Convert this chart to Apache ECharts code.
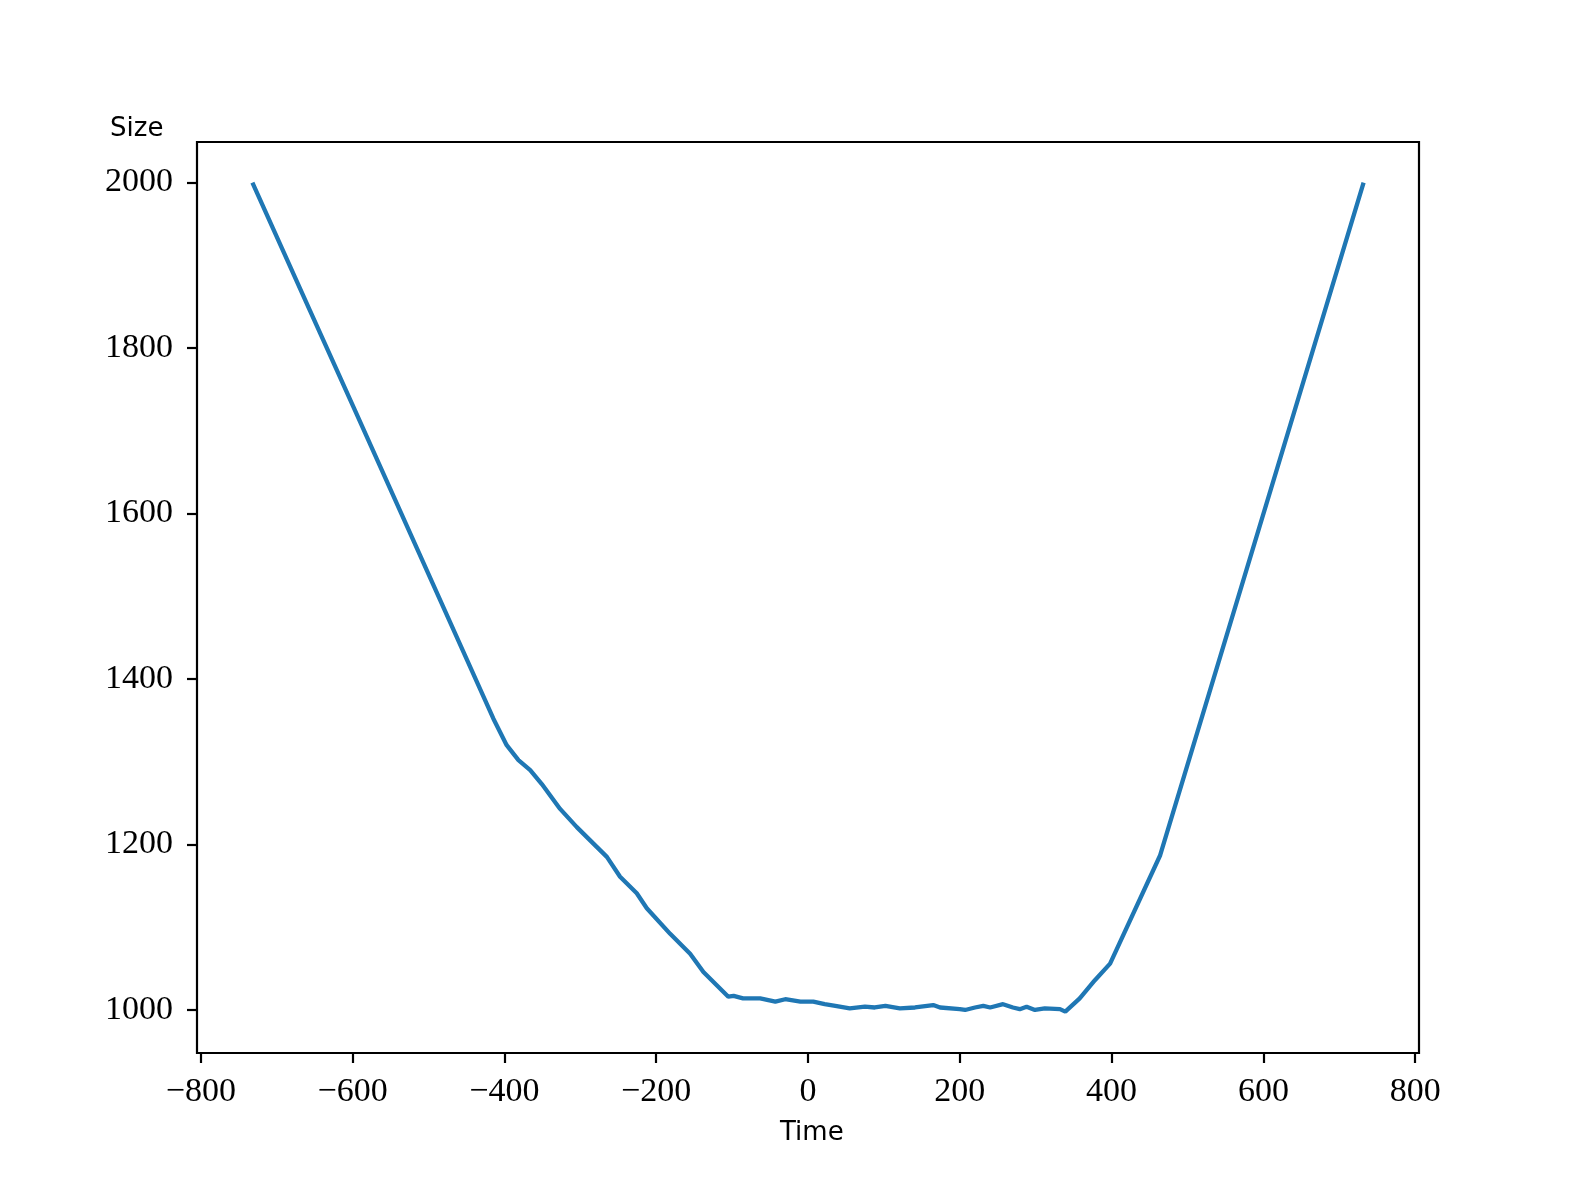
<!DOCTYPE html>
<html>
<head>
<meta charset="utf-8">
<script src="https://cdn.jsdelivr.net/npm/echarts@6/dist/echarts.min.js"></script>
<style>
html,body{margin:0;padding:0;background:#fff;}
#chart{width:1577px;height:1183px;}
</style>
</head>
<body>
<div id="chart"></div>
<script>
const timeValues = [-732, -656, -597, -414.5, -397, -381.5, -366, -350.7, -326.6, -304.6, -287, -265, -247.6, -225.6, -212.4, -181.6, -155.3, -137.8, -105, -98, -85.6, -63, -43, -30, -10, 7, 22, 36, 55, 75, 88, 102, 121, 141, 165, 174, 200, 207, 220, 231, 240, 257, 270, 279, 288, 299, 312, 332, 339, 341, 358, 378, 398, 464, 732];
const sizeValues = [2000, 1845, 1725, 1352, 1320, 1302, 1290, 1273, 1243, 1221, 1205, 1185, 1161, 1141, 1123, 1092, 1068, 1046, 1016, 1017, 1014, 1014, 1010, 1013, 1010, 1010, 1007, 1005, 1002, 1004, 1003, 1005, 1002, 1003, 1006, 1003, 1001, 1000, 1003, 1005, 1003, 1007, 1003, 1001, 1004, 1000, 1002, 1001, 998, 998, 1014, 1036, 1056, 1187, 2000];
const xTicks = [-800, -600, -400, -200, 0, 200, 400, 600, 800];
const yTicks = [1000, 1200, 1400, 1600, 1800, 2000];

const data = timeValues.map((t, i) => [t, sizeValues[i]]);
const fmt = v => (v < 0 ? '\u2212' + Math.abs(v) : String(v));
const tickFont = {fontFamily: 'Liberation Serif', fontSize: 34, color: '#000'};

const chart = echarts.init(document.getElementById('chart'));
chart.setOption({
  animation: false,
  backgroundColor: '#fff',
  grid: {left: 197, right: 158, top: 142, bottom: 130, show: true, borderColor: '#000', borderWidth: 2.2, backgroundColor: 'transparent'},
  xAxis: {
    type: 'value', min: -805, max: 805,
    splitLine: {show: false},
    axisLine: {show: false, onZero: false},
    axisTick: {show: true, inside: false, length: 10, lineStyle: {color: '#000', width: 2.2}, customValues: xTicks},
    axisLabel: Object.assign({margin: 22, formatter: fmt, customValues: xTicks}, tickFont)
  },
  yAxis: {
    type: 'value', min: 948, max: 2049,
    splitLine: {show: false},
    axisLine: {show: false, onZero: false},
    axisTick: {show: true, inside: false, length: 10, lineStyle: {color: '#000', width: 2.2}, customValues: yTicks},
    axisLabel: Object.assign({margin: 24, formatter: fmt, customValues: yTicks}, tickFont)
  },
  graphic: [
    {type: 'text', left: 110, top: 116, style: {text: 'Size', font: '26px "DejaVu Sans"', fill: '#000'}},
    {type: 'text', left: 780, top: 1120, style: {text: 'Time', font: '26px "DejaVu Sans"', fill: '#000'}}
  ],
  series: [{
    type: 'line', data: data, showSymbol: false, symbol: 'none',
    lineStyle: {color: '#1f77b4', width: 4.3}
  }]
});
</script>
</body>
</html>
